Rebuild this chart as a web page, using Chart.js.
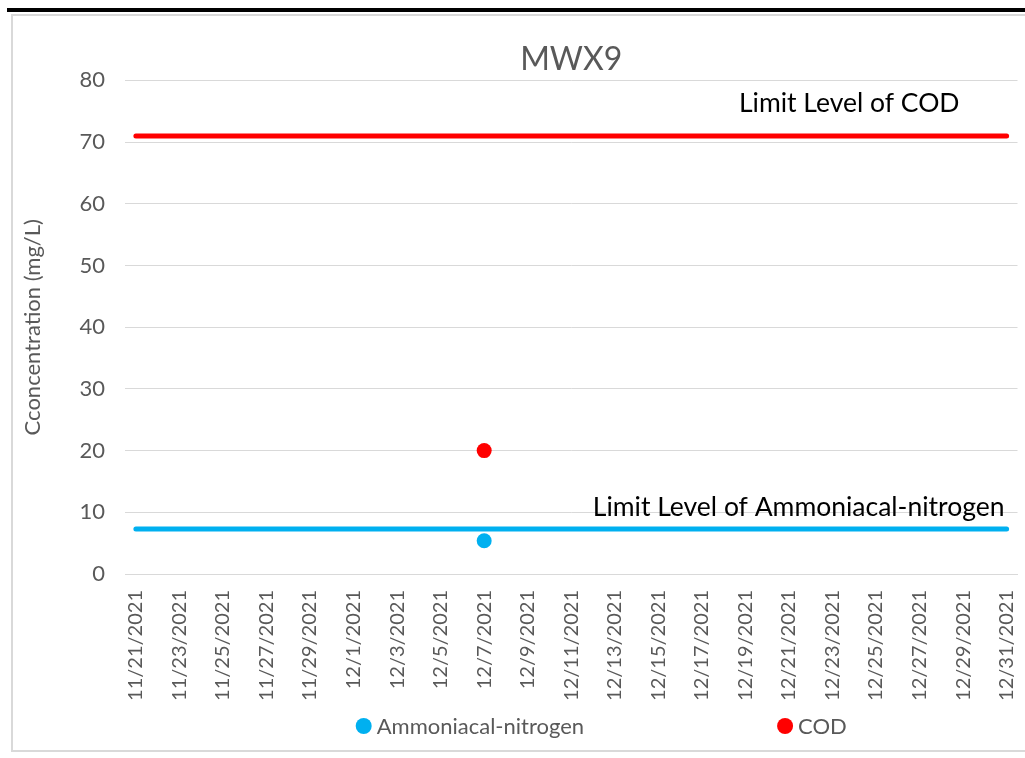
<!DOCTYPE html>
<html>
<head>
<meta charset="utf-8">
<script src="https://cdn.jsdelivr.net/npm/chart.js@4.4.1/dist/chart.umd.min.js"></script>
<style>
  html, body { margin: 0; padding: 0; background: #fff; overflow: hidden; }
  #topbar { position: absolute; left: 7px; top: 8px; width: 1030px; height: 4px; background: #000; }
  #frame { position: absolute; left: 11px; top: 14px; width: 1030px; height: 734px;
           border: 2px solid #d9d9d9; border-right: none; }
  #wrap { position: absolute; left: 0; top: 0; width: 1012px; height: 734px; }
</style>
</head>
<body>
<div id="topbar"></div>
<div id="frame"><div id="wrap"><canvas id="myChart"></canvas></div></div>
<script>
const dates = ['11/21/2021','11/22/2021','11/23/2021','11/24/2021','11/25/2021','11/26/2021','11/27/2021',
  '11/28/2021','11/29/2021','11/30/2021','12/1/2021','12/2/2021','12/3/2021','12/4/2021','12/5/2021',
  '12/6/2021','12/7/2021','12/8/2021','12/9/2021','12/10/2021','12/11/2021','12/12/2021','12/13/2021',
  '12/14/2021','12/15/2021','12/16/2021','12/17/2021','12/18/2021','12/19/2021','12/20/2021','12/21/2021',
  '12/22/2021','12/23/2021','12/24/2021','12/25/2021','12/26/2021','12/27/2021','12/28/2021','12/29/2021',
  '12/30/2021','12/31/2021']
const sampleDates = ['12/7/2021']
const ammonia = [5.4]
const cod = [20]
const ammoniaLimit = 7.3
const codLimit = 71
const yTicks = [0,10,20,30,40,50,60,70,80]

const grey = '#595959'
const font = 'Lato'

const limitLabels = {
    id: 'limitLabels',
    afterDatasetsDraw(chart) {
        const c = chart.ctx
        const y = chart.scales.y
        const area = chart.chartArea
        c.save()
        c.font = '26.5px ' + font
        c.fillStyle = '#000'
        c.textAlign = 'right'
        c.textBaseline = 'middle'
        c.fillText('Limit Level of COD', area.right - 58, y.getPixelForValue(codLimit) - 32)
        c.fillText('Limit Level of Ammoniacal-nitrogen', area.right - 13, y.getPixelForValue(ammoniaLimit) - 22)
        c.restore()
    }
}

// legend drawn by hand so the gap between the two items matches
const bottomLegend = {
    id: 'bottomLegend',
    afterDraw(chart) {
        const c = chart.ctx
        const area = chart.chartArea
        const items = chart.data.datasets.filter(d => d.inLegend)
        const gap = 193
        c.save()
        c.font = '22px ' + font
        c.textBaseline = 'middle'
        let widths = items.map(d => 16 + 5 + c.measureText(d.label).width)
        let total = widths.reduce((a, b) => a + b, 0) + gap * (items.length - 1)
        let x = (area.left + area.right) / 2 + 30 - total / 2
        const yy = 710
        items.forEach((d, i) => {
            c.fillStyle = d.pointBackgroundColor
            c.beginPath()
            c.arc(x + 8, yy, 8, 0, Math.PI * 2)
            c.fill()
            c.fillStyle = grey
            c.fillText(d.label, x + 21, yy + 1)
            x += widths[i] + gap
        })
        c.restore()
    }
}

const ctx = document.getElementById('myChart')
const myChart = new Chart(ctx, {
    type: 'line',
    data: {
        labels: dates,
        datasets: [
            {
                label: 'Limit Level of COD',
                data: [{x: dates[0], y: codLimit}, {x: dates[dates.length - 1], y: codLimit}],
                borderColor: '#ff0000',
                borderWidth: 5,
                borderCapStyle: 'round',
                pointRadius: 0,
            },
            {
                label: 'Limit Level of Ammoniacal-nitrogen',
                data: [{x: dates[0], y: ammoniaLimit}, {x: dates[dates.length - 1], y: ammoniaLimit}],
                borderColor: '#00b0f0',
                borderWidth: 5,
                borderCapStyle: 'round',
                pointRadius: 0,
            },
            {
                label: 'Ammoniacal-nitrogen',
                data: sampleDates.map((d, i) => ({x: d, y: ammonia[i]})),
                showLine: false,
                pointRadius: 7.5,
                pointBorderWidth: 0,
                pointBackgroundColor: '#00b0f0',
                inLegend: true,
            },
            {
                label: 'COD',
                data: sampleDates.map((d, i) => ({x: d, y: cod[i]})),
                showLine: false,
                pointRadius: 7.5,
                pointBorderWidth: 0,
                pointBackgroundColor: '#ff0000',
                inLegend: true,
            }
        ]
    },
    options: {
        responsive: true,
        maintainAspectRatio: false,
        animation: false,
        layout: {
            padding: {left: 0, right: 5, top: 0, bottom: 46}
        },
        plugins: {
            legend: { display: false },
            tooltip: { enabled: false },
            title: {
                display: true,
                text: 'MWX9',
                fullSize: false,
                color: grey,
                font: { family: font, size: 32, weight: 'normal' },
                padding: { top: 24, bottom: 2 }
            }
        },
        scales: {
            y: {
                min: 0,
                max: 80,
                afterFit(scale) { scale.width = 112 },
                afterBuildTicks(scale) { scale.ticks = yTicks.map(v => ({value: v})) },
                grid: { color: '#d9d9d9', lineWidth: 1, drawTicks: false },
                border: { display: false },
                ticks: {
                    color: grey,
                    padding: 20,
                    font: { family: font, size: 22 }
                },
                title: {
                    display: true,
                    text: 'Cconcentration (mg/L)',
                    color: grey,
                    font: { family: font, size: 22 },
                    padding: { top: 7, bottom: 0 }
                }
            },
            x: {
                offset: true,
                afterFit(scale) {
                    scale.height = 130
                    scale.paddingLeft = 0
                    scale.paddingRight = 0
                },
                grid: { display: false, drawTicks: false },
                border: { color: '#d9d9d9' },
                ticks: {
                    autoSkip: false,
                    maxRotation: 90,
                    minRotation: 90,
                    padding: 16,
                    color: grey,
                    font: { family: font, size: 20 },
                    callback: function(value, index) {
                        return index % 2 === 0 ? this.getLabelForValue(value) : ''
                    }
                }
            }
        }
    },
    plugins: [limitLabels, bottomLegend]
})
</script>
</body>
</html>
